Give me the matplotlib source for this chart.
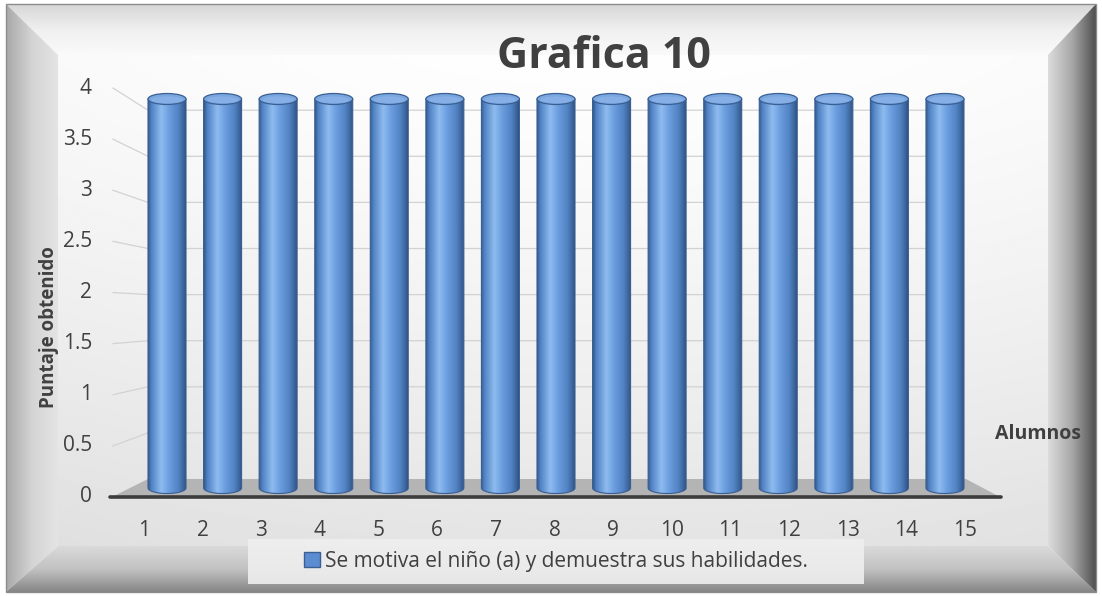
import numpy as np
import matplotlib.pyplot as plt
from matplotlib.patches import Ellipse, PathPatch, Polygon, Rectangle, Patch
from matplotlib.path import Path
from matplotlib.colors import LinearSegmentedColormap

plt.rcParams['font.family'] = ['Open Sans', 'DejaVu Sans']

# data
alumnos = list(range(1, 16))
puntajes = [4, 4, 4, 4, 4, 4, 4, 4, 4, 4, 4, 4, 4, 4, 4]
yticks = [0, 0.5, 1, 1.5, 2, 2.5, 3, 3.5, 4]
ytick_labels = ['0', '0.5', '1', '1.5', '2', '2.5', '3', '3.5', '4']
titulo = 'Grafica 10'
serie = 'Se motiva el niño (a) y demuestra sus habilidades.'
eje_x = 'Alumnos'
eje_y = 'Puntaje obtenido'

W, H = 1102, 596
TXT = '#404040'
fig = plt.figure(figsize=(W / 100, H / 100), dpi=100)

# background frame (pixel coords)
bg = fig.add_axes([0, 0, 1, 1])
bg.set_xlim(0, W)
bg.set_ylim(H, 0)
bg.axis('off')


def grad_fill(ax, verts, colors, horizontal, zorder=0):
    verts = np.asarray(verts, float)
    x0, y0 = verts.min(0)
    x1, y1 = verts.max(0)
    cmap = LinearSegmentedColormap.from_list('g', colors)
    t = np.linspace(0, 1, 256)
    img = t[None, :] if horizontal else t[:, None]
    im = ax.imshow(img, cmap=cmap, extent=(x0, x1, y1, y0), aspect='auto',
                   zorder=zorder, interpolation='bilinear')
    poly = Polygon(verts, closed=True, transform=ax.transData, fc='none', ec='none')
    ax.add_patch(poly)
    im.set_clip_path(poly)


ox0, oy0, ox1, oy1 = 6, 4, 1096, 592
ix0, iy0, ix1, iy1 = 58, 55, 1048, 546

# inner panel
yy, xx = np.mgrid[0:1:200j, 0:1:300j]
panel = 0.995 - 0.10 * yy ** 1.3 - 0.06 * np.abs(xx - 0.55) ** 2
bg.imshow(panel, cmap='gray', vmin=0, vmax=1, extent=(ix0, ix1, iy1, iy0),
          aspect='auto', zorder=0, interpolation='bilinear')

grad_fill(bg, [(ox0, oy0), (ox1, oy0), (ix1, iy0), (ix0, iy0)],
          ['#d6d6d6', '#f0f0f0', '#fafafa'], False, 1)
grad_fill(bg, [(ox0, oy0), (ix0, iy0), (ix0, iy1), (ox0, oy1)],
          ['#a8a8a8', '#d4d4d4', '#e4e4e4'], True, 1)
grad_fill(bg, [(ix0, iy1), (ix1, iy1), (ox1, oy1), (ox0, oy1)],
          ['#dadada', '#c2c2c2', '#858585'], False, 1)
grad_fill(bg, [(ix1, iy0), (ox1, oy0), (ox1, oy1), (ix1, iy1)],
          ['#dcdcdc', '#a8a8a8', '#4f4f4f'], True, 1)
bg.add_patch(Rectangle((ox0, oy0), ox1 - ox0, oy1 - oy0, fc='none',
                       ec='#8c8c8c', lw=1, zorder=2))

# legend box
bg.add_patch(Rectangle((248, 539), 616, 45, fc='#efefef', ec='none', alpha=0.9, zorder=2))

# data axes
L, R, T, B = 100, 1030, 40, 505
ax = fig.add_axes([L / W, 1 - B / H, (R - L) / W, (B - T) / H])
ax.patch.set_alpha(0)
for s in ax.spines.values():
    s.set_visible(False)
ax.set_xticks([])
ax.set_yticks([])


def dx(px):
    return (px - 167) / 55.57 + 1


def dy(py):
    return (488 - py) / 97.25


def front_x(i):
    return dx(144 + (i - 1) * 58.64)


def front_y(v):
    return dy(497 - 102.25 * v)


def back_y(v):
    return dy(479 - 92.2 * v)


# gridlines on back wall
for v in yticks[1:]:
    ax.plot([dx(113), dx(148), dx(962)], [front_y(v), back_y(v), back_y(v)],
            color='#d2d2d2', lw=0.9, zorder=1)

# floor
floor = Polygon([(dx(112), front_y(0)), (dx(1000), front_y(0)),
                 (dx(966), back_y(0)), (dx(148), back_y(0))],
                closed=True, fc='#b4b4b4', ec='none', zorder=1)
ax.add_patch(floor)
ax.plot([dx(110), dx(1001)], [front_y(0), front_y(0)], color='#3c3c3c',
        lw=2.6, solid_capstyle='round', zorder=2)

# cylinders
w = 38 / 55.57
eh = 5.5 / 97.25
body_cmap = LinearSegmentedColormap.from_list(
    'cyl', [(0, '#34598c'), (0.08, '#4f80c2'), (0.35, '#8ebcf0'),
            (0.55, '#6d9fe0'), (0.8, '#5283c4'), (0.93, '#3e679f'), (1, '#2f5283')])
th = np.linspace(np.pi, 2 * np.pi, 40)
for x, v in zip(alumnos, puntajes):
    arc = np.column_stack([x + w / 2 * np.cos(th), eh * np.sin(th)])
    verts = np.vstack([[(x - w / 2, v)], arc, [(x + w / 2, v)], [(x - w / 2, v)]])
    codes = [Path.MOVETO] + [Path.LINETO] * (len(verts) - 2) + [Path.CLOSEPOLY]
    path = Path(verts, codes)
    clip = PathPatch(path, fc='none', ec='#3a5f92', lw=0.8, zorder=4)
    ax.add_patch(clip)
    im = ax.imshow(np.linspace(0, 1, 128)[None, :], cmap=body_cmap,
                   extent=(x - w / 2, x + w / 2, -eh, v), aspect='auto',
                   zorder=3, interpolation='bilinear')
    im.set_clip_path(clip)
    ax.add_patch(Ellipse((x, v), w, 2 * eh, fc='#79a6df', ec='#3a5f92',
                         lw=0.9, zorder=5))
    ax.add_patch(Ellipse((x, v - eh * 0.15), w * 0.82, 2 * eh * 0.6, fc='#8fb8ea',
                         ec='none', alpha=0.6, zorder=5))

# tick labels
for v, lab in zip(yticks, ytick_labels):
    ax.text(dx(92), front_y(v), lab, ha='right', va='center', fontsize=15,
            color=TXT, clip_on=False)
for i in alumnos:
    ax.text(front_x(i), dy(530), str(i), ha='center', va='center', fontsize=15,
            color=TXT, clip_on=False)

ax.set_xlim(dx(L), dx(R))
ax.set_ylim(dy(B), dy(T))

# texts
fig.text(604 / W, 1 - 57 / H, titulo, ha='center', va='center', fontsize=31,
         fontweight='bold', color=TXT)
fig.text(49 / W, 1 - 327 / H, eje_y, ha='center', va='center', rotation=90,
         fontsize=13.5, fontweight='bold', color=TXT)
fig.text(1038 / W, 1 - 434 / H, eje_x, ha='center', va='center', fontsize=14,
         fontweight='bold', color=TXT)

ax.legend(handles=[Patch(fc='#5b8bd0', ec='#3a5f92')], labels=[serie],
          loc='center', bbox_to_anchor=(556 / W, 1 - 561 / H),
          bbox_transform=fig.transFigure, frameon=False, fontsize=15,
          handlelength=0.75, handleheight=0.75, handletextpad=0.25,
          labelcolor=TXT)

fig.savefig('out.png', dpi=100)
